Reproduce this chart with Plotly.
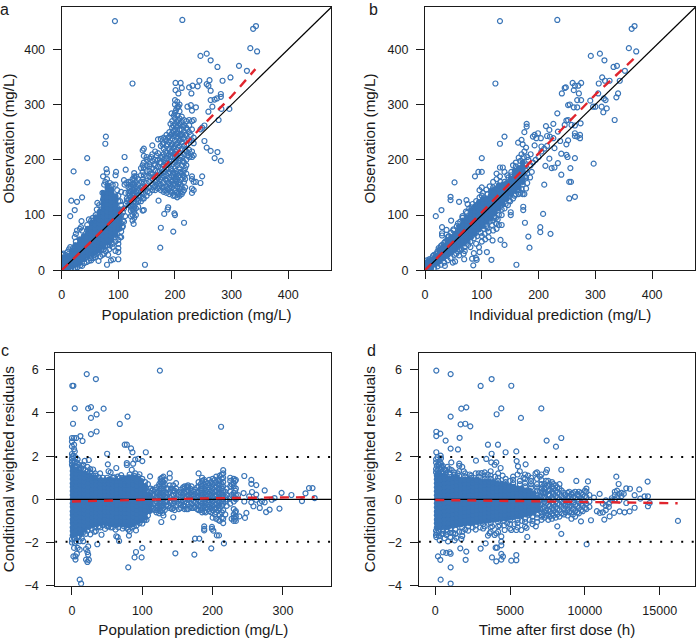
import plotly.graph_objects as go

# Rows: (x, y, y, ...). "core" rows are the solid, overplotted part of each cloud.
a_core = [
 (4,3,9,16,23),(11,4,11,18,26),(18,7,14,21,29,36),(25,10,17,24,31,38,45),(32,13,21,28,35,42,49,56),
 (39,20,27,34,41,48,55,62),(46,26,33,40,47,54,61,68,75),(53,30,37,44,51,58,65,72,79,86),
 (60,33,40,47,54,61,68,75,82,89,96),(67,36,43,50,57,64,71,78,85,92,99,106),
 (74,42,49,56,63,70,77,84,91,98,105,112,119,126,133,140),
 (81,50,57,64,71,78,85,92,99,106,113,120,127,134,141,148,154),
 (88,55,62,69,76,83,90,97,104,111,118,125,132,139,146),(95,64,71,78,85,92,99,106,113,120,127,134),
 (102,75,82,89,96,103,110)]
a_open = [
 (94,451),(213,453),(343,442),(338,437),(333,402),(345,396),(245,388),(256,392),(263,380),(275,368),(313,370),(327,361),
 (298,349),(284,343),(243,343),(261,344),(256,337),(259,334),(125,338),(201,339),(210,339),(212,330),(201,326),(206,320),
 (225,331),(231,334),(240,333),(229,320),(263,325),(263,308),(270,309),(274,311),(281,314),(281,319),(296,292),(282,292),
 (277,272),(266,296),(259,287),(222,296),(228,299),(237,295),(230,289),(194,284),
 (45,203),(21,179),(45,159),(77,229),(78,242),(111,205),(113,182),(17,126),(27,124),(36,132),(23,109),(15,98),(35,89),
 (147,10),(174,41),(197,70),(175,77),(216,86),(199,103),(200,100),(187,110),(188,114),(181,102),(171,126),(143,108),(145,109),
 (80,10),(36,8),(91,20),(87,18),(100,20),(100,33),(100,40),(65,17),(52,18),(75,30),
 (73,170),(79,183),(80,177),(96,178),(95,172),(110,163),(111,155),(114,158),(128,176),(128,170),(127,84),
 (10,1),(15,1),(20,2),(24,4),(28,6),(33,9),(40,13),(44,15),(48,17),(56,22),(60,24),(68,25),(72,28),(78,35),(82,28),(95,35),
 (103,60),(105,70),(107,78),(110,88),(112,98),(108,105),(105,118),(100,125),
 (1,28),(3,30),(7,28),(10,33),(13,38),(15,42),(20,40),(24,45),(25,52),(23,60),(25,66),(27,72),(32,75),(34,78),(36,72),
 (45,82),(48,92),(52,90),(55,95),(60,100),(62,110),(63,122),(66,118),(70,115),(73,128),(72,140),(75,155),(77,160),(80,165),
 (85,158),(90,155),(95,155),(98,145),(100,135),(105,142),(103,125),(110,112),(113,120),(115,130),(112,140),
 (118,118,128,140,150,155,160),(122,98,108,115,125,132,142,152,160),(125,90,100,110,118,128,135,145,155,165),
 (128,95,105,115,125,135,145,155,165),(131,100,112,122,133,143,152,160,170),(135,115,125,135,145,155,165),
 (140,125,133,140,150,160,172,185),(143,130,140,150,165,178,190,217),(145,130,138,148,160,172,185,195,207,220),
 (150,135,148,158,170,180,190,200,205),(155,140,150,160,170,180,192,202,188),(160,145,155,165,175,185,198,210,226),
 (165,145,152,160,170,180,190,200,215),(170,148,158,168,178,188,200,212,237),(175,145,155,165,175,185,195,205,225,238),
 (180,142,150,160,170,180,190,200,210,220,230,240),(185,140,152,162,172,182,192,202,212,225,235,245),
 (190,138,148,158,168,178,190,200,210,220,232,242,250),(195,140,150,160,170,180,192,205,215,228,238,248,258,270),
 (200,135,145,155,165,175,185,195,205,215,225,235,245,255,265,275,285,300,308),
 (204,132,142,152,165,175,190,205,218,230,240,250,260,270,280,295,305),
 (208,135,148,160,172,185,200,212,225,235,245,255,265,275,288,300),(212,138,150,165,175,190,205,220,232,245,255,268,278),
 (216,145,160,170,180,195,210,225,240,250,262,272),(220,175,190,200,215,228,245,258,270),(225,205,218,235,250,262,272),
 (230,140,148,165,170,205,215,235,255,270),(233,145,160,208,230,240,272),(237,160),(245,158,255),(248,170,258),
 (252,234,262),(256,222),(263,216),(270,203),(275,214),(281,198),
 (152,143),(157,175),(158,205),(162,150),(163,192),(167,163),(168,207),(172,153),(173,172),(173,195),(177,150,168),(178,183,205,228),
 (182,145),(183,165,178,195,215,238),(187,147,195,228),(188,158,176,207,240),(192,143,153,205),(193,164,184,215,225,245),(192,265),
 (197,135,155,175,222,252,262),(198,210,243,280),(202,140,160,170,180,200,210,228,248,262,290),(206,138,156,170,195,222,247,272,296),
 (210,143,155,178,208,238,262),(214,142,172,198,238,260),(218,150,165,185,218,245),(222,208,255),(228,210,245),
 (70,45),(80,45),(85,45),(90,48),(95,52),(100,55),(105,60),(108,90,80),(115,125),(100,75),(105,85,100),(62,30),(58,28),(50,22),(74,38),(84,38),(90,42),(100,48),
 (120,122,135),(123,120),(127,110,125,140,150),(133,128,148),(124,138),(121,148)]

b_core = [
 (4,2,9,15),(11,5,12,19),(18,11,18,25),(25,16,23,30,37),(32,22,29,36,43),(39,27,34,41,48,55),(46,32,39,46,53,60),
 (53,38,45,52,59,66),(60,44,51,58,65,72,79),(67,48,55,62,69,76,83,90),(74,54,61,68,75,82,89,96),
 (81,60,67,74,81,88,95,102,109),(88,66,73,80,87,94,101,108,115),(95,74,81,88,95,102,109,116,123),
 (102,80,87,94,101,108,115,122,129),(109,88,95,102,109,116,123,130),(116,94,101,108,115,122,129,136,143),
 (123,105,112,119,126,133,140,147),(130,112,119,126,133,140,147,154),(137,120,127,134,141,148,155),
 (144,130,137,144,151,158),(151,138,145,152,159,166),(158,145,152,159,166,173,180),(165,150,157,164,171,178,185),
 (172,160,167,174,181,188,195)]
b_open = [
 (132,451),(233,453),(369,442),(364,437),(359,402),(372,396),(292,388),(308,392),(316,380),(332,368),(338,370),(352,361),
 (312,349),(325,343),(343,343),(124,338),(260,339),(275,339),(270,334),(264,334),(262,326),(246,330),(248,331),(241,320),
 (271,320),(306,338),(317,343),(305,320),(340,320),(337,313),(315,311),(318,308),(291,307),(296,296),(300,296),(311,296),
 (320,293),(314,286),(334,272),(297,193),(233,284),(255,300),(252,299),(262,295),(268,295),(268,308),(275,308),(264,262),
 (140,242),(132,229),(100,203),(52,159),(45,133),(45,127),(60,124),(73,127),(75,120),(29,109),(19,98),(46,90),(30,78),(38,73),(30,67),(30,63),
 (161,10),(184,41),(182,61),(221,66),(203,69),(203,78),(176,86),(208,102),(173,115),(173,109),(151,105),(151,100),(140,46),
 (119,54),(133,55),(109,33),(117,19),(85,9),(90,22),(91,19),(86,31),(95,42),(96,33),(83,21),(69,20),(60,27),(68,30),(49,14),(53,16),(35,8),
 (264,133),(254,130),(254,160),(257,160),(210,155),(240,173),(256,185),(234,194),(212,189),(223,185),(228,186),(219,202),(264,203),
 (249,209),(251,205),(240,211),(252,235),(249,228),(238,234),(228,221),(179,265),(179,260),(175,250),(170,236),(164,231),
 (213,261),(226,265),(219,254),(215,243),(190,242),(199,248),(193,245),(196,239),(204,239),(193,226),(205,224),(220,242),(226,239),(234,251),
 (246,263),(249,271),(252,272),(258,263),(264,248),(274,266),(273,245),(273,239),(264,243),(268,242),
 (3,18),(8,20),(14,26),(20,30),(24,40),(28,44),(34,50),(40,60),(46,68),(50,74),(56,80),(62,88),(66,98),(72,106),(78,112),(84,120),
 (90,125),(96,132),(102,140),(108,146),(96,145),(100,150),(88,170),(94,178),(100,178),(114,152),(120,160),(126,165),(132,170),(126,175),(132,186),(137,186),(140,178),(145,172),
 (152,178),(155,190),(160,195),(165,204),(170,210),(175,215),(178,222),(172,228),(182,200),(186,210),(186,190),(180,175),(178,168),
 (10,2),(16,4),(22,7),(28,10),(34,14),(40,18),(45,22),(52,28),(58,34),(64,38),(70,42),(76,46),(80,52),(86,58),(92,62),(98,68),(104,75),
 (108,80),(114,88),(120,90),(125,85),(130,100),(135,110),(142,120),(148,126),(150,135),(155,130),(160,138),(168,140),(175,138),(178,148),(180,158),
 (185,168),(178,180),(188,178),(190,195),(195,200),(200,205),(205,215),(210,220),(215,225),(100,62),(105,66),(112,60),(120,72),(126,75),(130,82),(125,95),(135,82),
 (75,52),(80,42),(70,35),(60,38),(55,30),(90,48),(100,52),(106,56),
 (150,125),(158,135),(165,145),(170,148),(172,155),(176,170),(178,190),(180,205),(174,205),(168,198),(160,188),(152,172),(147,168),(140,160),(133,160),(120,150),
 (110,138),(100,135),(90,118),(82,114),(74,104),(66,95),(58,85),(50,72),(42,62),(36,52),(30,46),(22,34),(16,28),(8,20),(110,76),(118,82),(112,70),(122,95),(128,92),(135,100),(140,112),(146,118),(165,138),(172,138),(148,140)]

c_core = [
 (1,-1.66,-1.47,-1.29,-1.1,-.92,-.73,-.55,-.36,-.18,.01,.2,.38,.57,.75,.94,1.13,1.31,1.5),
 (6.7,-1.6,-1.42,-1.23,-1.05,-.86,-.68,-.49,-.3,-.12,.07,.25,.44,.62,.81,1,1.18,1.37),
 (12.4,-1.55,-1.36,-1.18,-.99,-.8,-.62,-.43,-.25,-.06,.12,.31,.5,.68,.87,1.05,1.24),
 (18,-1.4,-1.22,-1.03,-.85,-.66,-.47,-.29,-.1,.08,.27,.46,.64,.83,1.01,1.2),
 (24,-1.28,-1.1,-.91,-.73,-.54,-.35,-.17,.02,.2,.39,.57,.76,.95,1.12),
 (29.5,-1.2,-1.02,-.83,-.65,-.46,-.27,-.09,.1,.28,.47,.66,.84,1.0),
 (35,-1.15,-.97,-.78,-.6,-.41,-.22,-.04,.15,.33,.52,.7,.88),
 (41,-1.12,-.94,-.75,-.57,-.38,-.19,-.01,.18,.36,.55,.73,.9),
 (47,-1.1,-.92,-.73,-.55,-.36,-.17,.01,.2,.38,.57,.75,.88),
 (52.5,-1.12,-.93,-.75,-.56,-.37,-.19,0,.18,.37,.55,.74,.92),
 (58,-1.15,-.96,-.78,-.59,-.41,-.22,-.03,.15,.34,.52,.71,.88),
 (64,-1.18,-1,-.81,-.63,-.44,-.25,-.07,.12,.3,.49,.67,.86),
 (70,-1.15,-.97,-.78,-.6,-.41,-.22,-.04,.15,.33,.52,.7,.86),
 (75.5,-1.18,-1,-.81,-.62,-.44,-.25,-.07,.12,.31,.49,.68,.86,.98),
 (81,-1.2,-1.02,-.83,-.64,-.46,-.27,-.09,.1,.29,.47,.66,.84,1.02),
 (87,-1.15,-.97,-.78,-.6,-.41,-.22,-.04,.15,.33,.52,.7,.89,1.02),
 (93,-1.05,-.87,-.68,-.49,-.31,-.12,.06,.25,.44,.62,.81,.98),
 (98.5,-.98,-.8,-.61,-.42,-.24,-.05,.13,.32,.51,.69,.85),
 (104,-.85,-.66,-.48,-.29,-.1,.08,.27,.45,.62),
 (110,-.55,-.36,-.18,.01,.2)]
c_open = [
 (2,5.26),(.5,5.26),(4,4.21),(1.5,3.5),(0,2.84),(3,2.84),(6,2.84),(0,2.68),(3,2.53),(3,2.33),(4,2.22),(1,2),(0,2.45),
 (21,5.8),(34,5.57),(23,4.21),(27,4.27),(45,4.2),(27,3.77),(35,3.93),(68,3.49),(79,3.83),(27,3.02),(35,3.14),(12,2.93),(15,2.7),
 (50,2.11),(75,2.53),(78,2.53),(84,2.36),(86,2.18),(105,2.18),(94,1.87),(100,1.77),(90,1.84),(87,1.65),(78,1.68),(78,1.59),(51,1.62),
 (63,1.45),(85,1.37),(111,1.06),(125,5.96),(212,3.36),(11,-3.72),(13,-3.9),(80,-3.15),(89,-2.69),(91,-2.44),(100,-2.25),(99,-2.69),
 (147,-2.5),(174,-2.56),(198,-2.27),(216,-2.04),(175,-1.82),(181,-1.82),(188,-1.25,-1.37,-1.44),(199,-1.28,-1.37),(201,-1.45),(206,-1.67),(209,-1.67),
 (36,-2.08),(42,-1.64),(34,-1.47),(47,-1.37),(63,-1.71),(65,-1.75),(67,-1.93),(81,-1.68),(82,-1.48),(91,-1.44),(11,-2.33),(3,-2.25),
 (2,-2.64),(5,-2.64,-2.79),(7,-2.52),(8,-2.25),(4,-2.02),(11,-1.94),(16,-1.94),(23,-2.18),(20,-2.3),(22,-2.44),(23,-2.56),(20,-2.79),(22,-2.9),(24,-2.8),
 (129,-.63),(127,-1.05),(144,-.83),
 (245,1.08),(255,.9,.72),(262,.66),(274,.41),(298,.3),(312,.2),(327,-.08),(332,.28),(337,.52),(342,.52),(345,.06),(295,-.43),(281,-.48),(276,-.59),
 (267,-.4),(258,-.32),(245,-.1),(248,-.63),(246,-.86),(238,-.79),(244,.29),(236,.2),(252,.14),(256,.34),(262,.22,-.02),(270,-.09),(274,-.14),(284,-.02),(288,.06),(267,-.17),(255,-.14),
 (4,1.7),(8,1.85),(3,-1.8),(8,-1.75),(14,1.55),(18,1.78),(24,1.82),(22,1.5),(30,1.38),(34,1.1),(40,1.2),(38,1.02),(52,1.3),(55,1.25),(65,1.05),(70,1.12),(60,1.02),(96,1.16),(90,1.2),
 (14,-1.8),(20,-1.6),(26,-1.62),(32,-1.5),(40,-1.3),(50,-1.25),(55,-1.3),(62,-1.4),(72,-1.35),(78,-1.32),(85,-1.3),(92,-1.2),(100,-1.12),(106,-.95),
 (112,-.5,-.2,.1,.3,.5),(115,-.45,-.2,.2,.45),(120,-.6,-.4,-.1,.1,.3,.55),(124,-.65,-.4,-.2,0,.2,.4,.6,.7),(128,-.5,-.3,-.1,.1,.3,.5,.7,.85,1),
 (130,-.75,-.4,-.2,0,.2,.4,.6,.8,1.05),(134,-.3,-.1,.1,.3,.5),(139,-.4,-.15,.1,.35,.65,1,1.2),(144,-.4,-.2,0,.2,.4,.65),(148,-.3,0,.25,.5,.75),
 (155,-.4,-.25,-.1,.1,.3,.45),(160,-.45,-.3,-.1,.1,.3,.5,.6),(165,-.45,-.25,0,.2,.4,.55,.65),(170,-.4,-.2,0,.2,.4,.6),(175,-.35,-.15,.05,.25,.45),
 (180,-.5,-.3,-.05,.15,.35,.6,.8,1.2),(185,-.6,-.4,-.2,0,.2,.4,.6,.85,1),(190,-.6,-.4,-.2,0,.2,.4,.6,.8),(195,-.55,-.35,-.15,.05,.25,.45,.65,.9),
 (200,-.85,-.5,-.3,-.1,.1,.3,.5,.7,.95),(205,-.9,-.6,-.4,-.2,0,.2,.4,.6,.8,1.05),(210,-1,-.7,-.4,-.15,.05,.25,.45,.65,.85,1.1),
 (215,-1.1,-.9,-.5,-.2,0,.2,.4,.6,.8,1,1.2,1.35),(220,-.3,0,.2,.5),(225,-.2,.05,.35,.6,.85,1),(230,-1,-.85,-.7,-.45,-.1,.1,.3,.6,.75,.95),(233,-1,-.8,-.55,0,.2,.5,.9),
 (0,1.6,1.75,1.9,2.1,-1.85,-2),(2,1.7,2),(5,1.55,1.95),(7,1.5,1.7),(10,1.4,1.6),(13,1.45),(16,1.4,1.6),(19,1.35),(22,1.3),(26,1.25,1.4),(30,1.1),(33,1,1.2),(44,1),(50,1),(58,1),(68,1),(72,.98),(82,1.15),(88,1.1),(94,1.05),(100,.95),(104,.8),(108,.7),
 (4,-1.8),(6,-1.95),(10,-1.7),(13,-1.6),(17,-1.5),(22,-1.45),(28,-1.35),(33,-1.3),(38,-1.25),(44,-1.2),(52,-1.25),(58,-1.3),(66,-1.3),(74,-1.25),(80,-1.4),(88,-1.25),(96,-1.1),(103,-.95),(108,-.75),
 (113,-.35,.05,.4),(118,-.5,-.2,.2,.45),(122,-.5,-.3,.05,.3),(126,-.55,-.3,-.1,.1,.3,.5,.8,.95),(132,-.5,-.1,.15,.7,.9),(137,-.3,.25,.5),(142,-.45,-.1,.15,.5),(146,-.5,-.1,.4),
 (152,-.45,-.2,0,.2,.35),(158,-.3,-.05,.2,.55),(163,-.45,-.15,.1,.35,.6),(168,-.35,.1,.3,.5),(173,-.4,-.1,.15,.35),(178,-.45,-.2,.1,.3,.55),(183,-.5,-.3,-.1,.1,.3,.5,.7),
 (188,-.55,-.3,-.1,.1,.3,.5,.7,.9),(193,-.45,-.25,-.05,.15,.35,.55,.75),(198,-.6,-.4,-.2,0,.2,.4,.6,.8),(203,-.7,-.45,-.25,-.05,.15,.35,.55,.75,.9),
 (208,-.95,-.5,-.3,-.1,.1,.3,.5,.7,.9),(213,-.85,-.6,-.3,-.1,.1,.3,.5,.7,.95,1.15),(218,-.7,-.1,.1,.35),(227,-.9,.2,.7),(232,-.9,-.6,.05,.4,.85)]

d_core = [
 (100,-1.3,-1.11,-.93,-.74,-.56,-.37,-.18,0,.19,.37,.56,.74,.93,1.1),(370,-1.3,-1.12,-.93,-.75,-.56,-.37,-.19,0,.18,.37,.55,.74,.93,1.1),
 (640,-1.28,-1.09,-.91,-.72,-.54,-.35,-.16,.02,.21,.39,.58,.76,.95,1.08),(910,-1.25,-1.07,-.88,-.7,-.51,-.32,-.14,.05,.23,.42,.6,.79,.98),
 (1180,-1.22,-1.03,-.85,-.66,-.48,-.29,-.1,.08,.27,.45,.64,.82,1),(1450,-1.18,-.99,-.81,-.62,-.44,-.25,-.06,.12,.31,.49,.68,.86,1.02),
 (1720,-1.15,-.97,-.78,-.6,-.41,-.22,-.04,.15,.33,.52,.7,.89),(1990,-1.12,-.93,-.75,-.56,-.38,-.19,0,.18,.37,.55,.74,.92),
 (2260,-1.1,-.92,-.73,-.55,-.36,-.17,.01,.2,.38,.57,.75,.92),(2530,-1.08,-.9,-.71,-.53,-.34,-.15,.03,.22,.4,.59,.77,.9),
 (2800,-1.05,-.87,-.68,-.5,-.31,-.12,.06,.25,.43,.62,.8,.92),(3070,-1.02,-.84,-.65,-.47,-.28,-.09,.09,.28,.46,.65,.83),
 (3340,-1,-.82,-.63,-.45,-.26,-.07,.11,.3,.48,.67,.82),(3610,-.98,-.8,-.61,-.43,-.24,-.05,.13,.32,.5,.69,.82),
 (3880,-.95,-.77,-.58,-.4,-.21,-.02,.16,.35,.53,.72,.8),(4150,-.92,-.74,-.55,-.37,-.18,.01,.19,.38,.56,.72),
 (4420,-.9,-.72,-.53,-.35,-.16,.03,.21,.4,.58,.72),(4690,-.88,-.7,-.51,-.33,-.14,.05,.23,.42,.6,.68),
 (4960,-.85,-.67,-.48,-.3,-.11,.08,.26,.45,.6),(5230,-.82,-.64,-.45,-.27,-.08,.11,.29,.48,.58),(5500,-.8,-.62,-.43,-.25,-.06,.13,.31,.5),
 (5770,-.75,-.57,-.38,-.2,-.01,.18,.36,.5),(6040,-.7,-.52,-.33,-.15,.04,.23,.41),(6310,-.68,-.5,-.31,-.13,.06,.25,.4),
 (6580,-.62,-.44,-.25,-.07,.12,.28),(6850,-.5,-.3,-.1,.08)]
d_open = [
 (67,5.96),(1025,5.8),(3030,5.25),(3765,5.57),(5080,5.26),(1738,4.2),(2072,4.26),(4412,4.21),(4100,3.94),(7086,4.21),(5726,3.77),(1025,3.83),
 (1693,3.47),(2005,3.5),(2340,3.38),(67,3.13,2.93,2.18),(334,3.04),(690,2.72),(1627,2.85),(3520,2.53),(4190,2.53),(7442,2.72),(8066,2.44),(8422,2.84,1.37),
 (1025,2.35),(1515,2.31),(3765,2.11),(4700,2.18),(5415,2.22),(357,2.02),(3409,1.87),(2718,1.79),(1070,1.71),(3743,1.71),(4077,1.71),(3966,1.6),(5437,1.77),
 (6038,1.62),(5526,1.53),(4367,1.45),(7464,1.37),(9425,.85),(10205,.83),(12100,1.05),(14193,.82),(12255,.71),(8155,-1.25),(8422,-1.6),(6150,-1.74),
 (9737,-1.02),(10405,-.97),(11297,-.94),(10116,-2.08),(16221,-1),(11653,-.79),(11943,-.63),(12322,-.56),(12656,-.6),(12990,-.56),(13324,-.39,.19),
 (13703,.03),(13636,.46),(13012,.49),(12767,.51,-.17),(13993,.14),(14215,.14,-.32),(14327,-.17),(10985,.25),(10606,.08),
 (178,-2.64),(334,-2.8),(512,-2.45),(735,-2.48),(958,-2.45),(1025,-2.52,-3.15,-3.9),(357,-3.72),(2028,-2.8),(2072,-2.42),(1671,-2.27),(3030,-2.28),(3365,-2.04),
 (3788,-2.69),(4077,-2.87),(4033,-2.24),(4122,-2.24),(4412,-2.53,-2.79,-1.96,-2.13),(4523,-2.65),(5080,-2.84),(5415,-2.58,-2.82),
 (67,-1.75),(290,-1.9),(625,-1.8),(850,-1.95),(1290,-1.9),(1400,-1.78),(1740,-1.84),(3520,-1.68),(3630,-1.57),(3965,-1.65),(4077,-1.57),(4412,-1.72),(4635,-1.42),(5080,-1.42),(5415,-1.42),(5750,-1.42),(6100,-1.32),(6720,-1.25),
 (100,1.55),(200,1.62),(300,1.75),(420,1.5),(600,1.4),(800,1.5),(1100,1.35),(1500,1.2),(1800,1.5),(1900,1.3),(2300,1.15),(2700,1.2),(3100,1.22),(3500,1.15),(4000,1.05),(4500,1.1),(5000,.85),(5500,1.15),(5900,1),(6200,1.1),(6700,1.2),(7000,1.05),(7400,1.25),
 (100,-1.55),(400,-1.6),(800,-1.5),(1200,-1.55),(1600,-1.5),(2000,-1.4),(2500,-1.3),(3000,-1.3),(3300,-1.25),(3800,-1.25),(4300,-1.2),(4800,-1.1),(5300,-1.15),(5800,-1),(6300,-.95),
 (7300,-.85,-.6,-.35,-.1,.1,.3,.5,.7),(7550,-.95,-.7,-.5,-.25,0,.2,.4,.6,.85),(7800,-.9,-.65,-.4,-.15,.1,.35,.6,.8),(8050,-.85,-.6,-.35,-.1,.15,.4,.65),(8300,-.8,-.5,-.25,0,.25,.5,.7),
 (8600,-.7,-.45,-.2,.05,.3),(8850,-.75,-.5,-.25,.05,.3),(9100,-.9,-.6,-.3,0,.25),(9350,-.8,-.55,-.25,.05,.35),(9600,-.65,-.4,-.1,.15,.35),(9850,-.55,-.3,-.05,.2),(10100,-.45,-.2,.1,.35,.5),
 (10300,-.35,-.1,.2),(10800,-.55),(11000,-.63),(11200,-.6,-.2),(11400,-.5,-.3,-.05),(11600,-.35,-.2),(11800,-.05,.05),(12000,0,.2,.35),(12150,.1,.4),(12300,-.05,.25),(12450,.15,.3),(12600,.25),
 (50,1.25,1.4,1.7,1.85),(150,1.2,1.35,1.95),(250,1.2,1.45,1.6),(380,1.25,1.4,1.65,1.9),(500,1.2,1.3,1.55),(700,1.2,1.35),(950,1.15,1.25,1.4),(1250,1.12,1.25),(1600,1.1,1.3,1.55,1.65),(2000,1.05,1.2),(2400,1,1.1),(2900,1.05,1.2),(3300,.95,1.1,1.25),(3700,.95,1.1,1.3),(4200,.85,1,1.2),(4700,.8,.95),(5200,.75,.9,1.05),(5650,.7,.85,1.3),(6000,.6,.75,.95,1.15),(6400,.55,.7,.85,1),(6800,.4,.55,.7,.95,1.25),(7100,.3,.5,.7,.9,1.15),
 (50,-1.45,-1.65),(250,-1.5,-1.7),(500,-1.45,-1.6),(750,-1.4,-1.65),(1000,-1.35,-1.55,-1.75),(1350,-1.4,-1.6),(1800,-1.3,-1.5,-1.7),(2200,-1.25,-1.45),(2700,-1.2,-1.4),(3200,-1.15,-1.35),(3700,-1.1,-1.3,-1.5),(4200,-1.05,-1.25,-1.5),(4600,-1,-1.2),(5000,-.95,-1.15,-1.35),(5500,-.95,-1.1,-1.3),(6000,-.9,-1.05,-1.25),(6500,-.8,-1,-1.15),(6800,-.7,-.85,-1.05),(7100,-.6,-.8,-.95),
 (7000,-.45,-.25,-.05,.15,.35),(7200,-.7,-.45,-.2,.05,.3,.6),(7400,-.75,-.5,-.2,.05,.3,.55,.85),(7650,-.8,-.55,-.3,-.05,.2,.45,.7),(7900,-.75,-.5,-.25,0,.25,.5,.7),(8150,-.7,-.45,-.2,.05,.3,.55),(8450,-.65,-.35,-.1,.15,.4),(8700,-.6,-.3,-.05,.2),(8950,-.6,-.35,-.1,.15,.35),(9200,-.7,-.45,-.15,.1,.3),(9500,-.6,-.3,0,.25),(9750,-.5,-.2,.05,.3),(10000,-.4,-.1,.15,.4)]

a_diag_x = [0, 476]
a_diag_y = [0, 476]
a_red_x = [0, 50, 100, 150, 200, 250, 300, 342]
a_red_y = [0, 50, 102, 155, 208, 263, 315, 364]
b_red_x = [0, 50, 100, 150, 200, 250, 300, 370]
b_red_y = [0, 52, 105, 158, 212, 265, 318, 385]
c_red_x = [0, 50, 100, 150, 200, 250, 300, 345]
c_red_y = [-.1, -.06, -.02, .03, .05, .07, .09, .1]
d_red_x = [0, 4000, 8000, 12000, 16200]
d_red_y = [-.03, -.06, -.1, -.14, -.18]
c_x_span = [-24, 369]
d_x_span = [-1110, 17380]
limit = 1.96

x_titles = ["Population prediction (mg/L)", "Individual prediction (mg/L)",
            "Population prediction (mg/L)", "Time after first dose (h)"]
y_titles = ["Observation (mg/L)", "Observation (mg/L)",
            "Conditional weighted residuals", "Conditional weighted residuals"]
panel_labels = ["a", "b", "c", "d"]
obs_ticks = [0, 100, 200, 300, 400]
pred_ticks = [0, 100, 200, 300]
time_ticks = [0, 5000, 10000, 15000]
res_ticks = [-4, -2, 0, 2, 4, 6]

W, H = 696, 638
BLUE = "#3a75b7"
RED = "#e0252d"
INK = "#1a1a1a"
FONT = "Liberation Sans"

boxes = [(61.7, 331.3, 6.7, 270.3), (425, 695.3, 6.7, 270.3), (55.3, 331.3, 352.7, 585.7), (418.7, 695.3, 352.7, 585.7)]
x_ranges = [[0, 476], [0, 476], [-23.7, 368.7], [-1110, 17380]]
y_ranges = [[0, 477], [0, 477], [-4, 6.79], [-4, 6.79]]
x_ticks = [obs_ticks, obs_ticks, pred_ticks, time_ticks]
y_ticks = [obs_ticks, obs_ticks, res_ticks, res_ticks]
label_pos = [(4, 9), (373, 9), (4.5, 350), (372, 350)]


def expand(rows):
    xs, ys = [], []
    for r in rows:
        for y in r[1:]:
            xs.append(r[0])
            ys.append(y)
    return xs, ys


fig = go.Figure()
clouds = [(a_core, a_open), (b_core, b_open), (c_core, c_open), (d_core, d_open)]
for i, (core, opened) in enumerate(clouds):
    ax = dict(xaxis="x" + (str(i + 1) if i else ""), yaxis="y" + (str(i + 1) if i else ""))
    cx, cy = expand(core)
    fig.add_trace(go.Scatter(x=cx, y=cy, mode="markers", showlegend=False, **ax,
                             marker=dict(symbol="circle", size=6, color=BLUE, line=dict(width=0))))
    ox, oy = expand(opened)
    fig.add_trace(go.Scatter(x=ox, y=oy, mode="markers", showlegend=False, **ax,
                             marker=dict(symbol="circle-open", size=5, color=BLUE, line=dict(width=1.2, color=BLUE))))
    if i < 2:
        fig.add_trace(go.Scatter(x=a_diag_x, y=a_diag_y, mode="lines", showlegend=False, **ax,
                                 line=dict(color="black", width=1.2)))
    else:
        span = c_x_span if i == 2 else d_x_span
        fig.add_trace(go.Scatter(x=span, y=[0, 0], mode="lines", showlegend=False, **ax,
                                 line=dict(color="black", width=1.2)))
        for s in (limit, -limit):
            fig.add_trace(go.Scatter(x=span, y=[s, s], mode="lines", showlegend=False, **ax,
                                     line=dict(color="black", width=2, dash="2px,8.5px")))
    rx, ry = [(a_red_x, a_red_y), (b_red_x, b_red_y), (c_red_x, c_red_y), (d_red_x, d_red_y)][i]
    fig.add_trace(go.Scatter(x=rx, y=ry, mode="lines", showlegend=False, **ax,
                             line=dict(color=RED, width=2.4, dash="9px,7px")))

layout = dict(width=W, height=H, margin=dict(l=0, r=0, t=0, b=0, autoexpand=False), paper_bgcolor="white", plot_bgcolor="white",
              font=dict(family=FONT, size=12.5, color=INK), showlegend=False)
anns = []
for i in range(4):
    x0, x1, y0, y1 = boxes[i]
    sfx = str(i + 1) if i else ""
    common = dict(showgrid=False, zeroline=False, showline=True, mirror=True, linecolor=INK, linewidth=1.3,
                  ticks="outside", ticklen=8, tickwidth=1.1, tickcolor=INK, ticklabelstandoff=5,
                  tickfont=dict(family=FONT, size=12.5, color=INK))
    layout["xaxis" + sfx] = dict(domain=[x0 / W, x1 / W], range=x_ranges[i], anchor="y" + sfx,
                                 tickmode="array", tickvals=x_ticks[i], ticktext=[str(v) for v in x_ticks[i]],
                                 title=dict(text=x_titles[i], standoff=7, font=dict(family=FONT, size=15.2, color=INK)), **common)
    layout["yaxis" + sfx] = dict(domain=[1 - y1 / H, 1 - y0 / H], range=y_ranges[i], anchor="x" + sfx,
                                 tickmode="array", tickvals=y_ticks[i],
                                 ticktext=[str(v).replace("-", "\u2212") for v in y_ticks[i]],
                                 title=dict(text=y_titles[i], standoff=7.5, font=dict(family=FONT, size=15.2, color=INK)), **common)
    lx, ly = label_pos[i]
    anns.append(dict(text=panel_labels[i], x=lx / W, y=1 - ly / H, xref="paper", yref="paper", xanchor="center",
                     yanchor="middle", showarrow=False, font=dict(family=FONT, size=16, color=INK)))
layout["annotations"] = anns
fig.update_layout(**layout)
fig.write_html("out.html", config={"displayModeBar": False}, post_script="document.body.style.margin='0';")
